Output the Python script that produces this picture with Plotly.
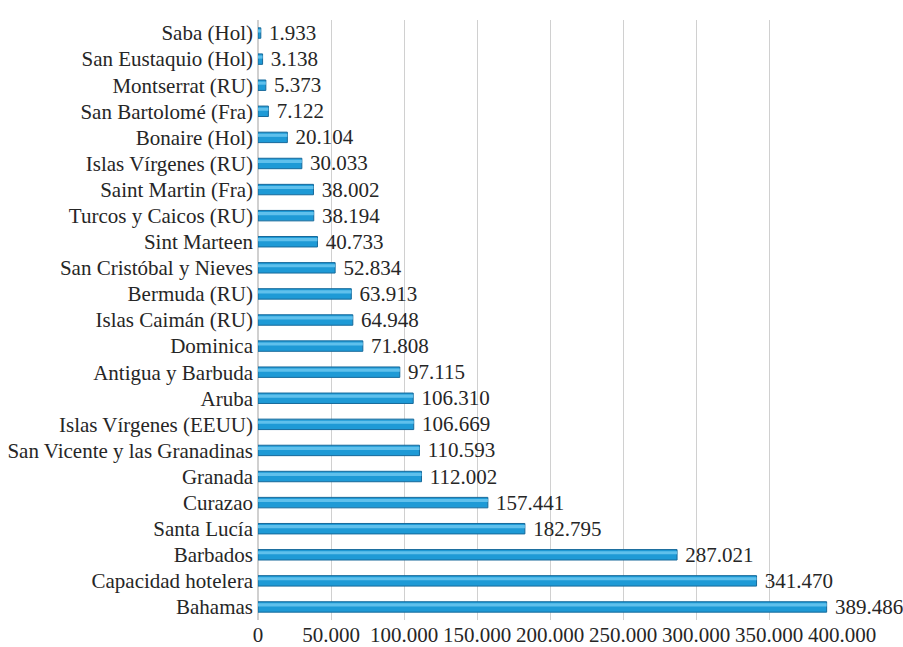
import plotly.graph_objects as go

categories = [
    "Saba (Hol)", "San Eustaquio (Hol)", "Montserrat (RU)", "San Bartolomé (Fra)",
    "Bonaire (Hol)", "Islas Vírgenes (RU)", "Saint Martin (Fra)", "Turcos y Caicos (RU)",
    "Sint Marteen", "San Cristóbal y Nieves", "Bermuda (RU)", "Islas Caimán (RU)",
    "Dominica", "Antigua y Barbuda", "Aruba", "Islas Vírgenes (EEUU)",
    "San Vicente y las Granadinas", "Granada", "Curazao", "Santa Lucía",
    "Barbados", "Capacidad hotelera", "Bahamas",
]
values = [
    1933, 3138, 5373, 7122, 20104, 30033, 38002, 38194, 40733, 52834, 63913, 64948,
    71808, 97115, 106310, 106669, 110593, 112002, 157441, 182795, 287021, 341470, 389486,
]
tick_vals = [0, 50000, 100000, 150000, 200000, 250000, 300000, 350000, 400000]

FONT = '"Liberation Serif", "Times New Roman", serif'
FS = 21

fig = go.Figure()
fig.add_trace(go.Bar(
    y=categories, x=values, orientation="h",
    width=0.4,
    marker=dict(color="#1E9AD6", line=dict(color="#17699A", width=1)),
    texttemplate=" %{x:,d}", textposition="outside", constraintext="none",
    textfont=dict(family=FONT, size=FS, color="#262626"),
    cliponaxis=False,
))
# highlight to mimic cylinder shading
fig.add_trace(go.Bar(
    y=categories, x=values, orientation="h",
    width=0.12, offset=-0.14,
    marker=dict(color="#5FC0EC", line=dict(width=0)),
    hoverinfo="skip",
))

fig.update_layout(
    width=903, height=647,
    margin=dict(l=258, r=61, t=20, b=27, autoexpand=False),
    paper_bgcolor="white", plot_bgcolor="white",
    showlegend=False, barmode="overlay",
    separators=",.",
    font=dict(family=FONT, size=FS, color="#262626"),
    xaxis=dict(
        range=[0, 400000], tickvals=tick_vals, tickformat=",d",
        showgrid=True, gridcolor="#D0D0D0", gridwidth=1,
        zeroline=True, zerolinecolor="#D0D0D0",
        showline=False, ticks="",
        tickfont=dict(family=FONT, size=FS, color="#262626"),
    ),
    yaxis=dict(
        range=[22.5, -0.5], showgrid=False, ticks="", showline=False,
        tickfont=dict(family=FONT, size=FS, color="#262626"),
        ticklabelstandoff=4,
    ),
)

fig.write_html(
    "out.html",
    config={"displayModeBar": False},
    post_script="document.body.style.margin='0';document.body.style.overflow='hidden';",
)
